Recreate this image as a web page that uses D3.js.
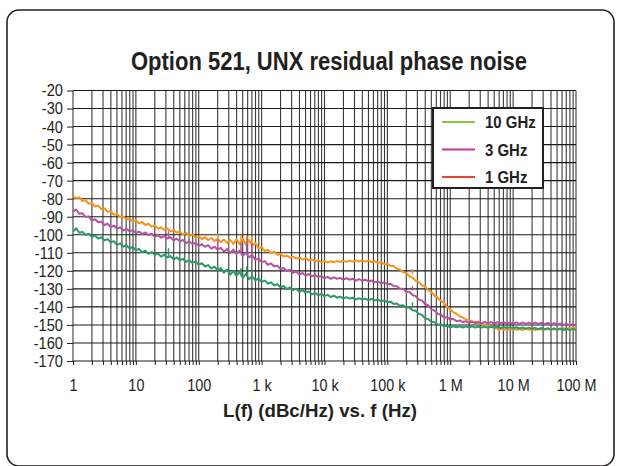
<!DOCTYPE html>
<html><head><meta charset="utf-8">
<script src="https://cdn.jsdelivr.net/npm/d3@7"></script>
<style>
body{margin:0;background:#fff}
svg text{font-family:"Liberation Sans",Arial,sans-serif;fill:#231f20}
</style></head>
<body><svg id="c" width="621" height="466"></svg>
<script>
// ---- data ----
const title = "Option 521, UNX residual phase noise";
const xTitle = "L(f) (dBc/Hz) vs. f (Hz)";
const xTickValues = [1,10,100,1e3,1e4,1e5,1e6,1e7,1e8];
const xTickLabels = ["1","10","100","1 k","10 k","100 k","1 M","10 M","100 M"];
const yTickValues = [-20,-30,-40,-50,-60,-70,-80,-90,-100,-110,-120,-130,-140,-150,-160,-170];
const legendLabels = ["10 GHz","3 GHz","1 GHz"];
const legendColors = ["#8dc63f","#c4379a","#ef4136"];
const seriesColors = ["#f7941d","#b4529f","#2c9a68"];

// log10 of offset frequency (Hz)
const logFreq = [
0,0.05,0.1,0.15,0.2,0.25,0.3,0.35,0.4,0.45,
0.5,0.55,0.6,0.65,0.7,0.75,0.8,0.85,0.9,0.95,
1,1.05,1.1,1.15,1.2,1.25,1.3,1.35,1.4,1.45,
1.5,1.55,1.6,1.65,1.7,1.75,1.8,1.85,1.9,1.95,
2,2.05,2.1,2.15,2.2,2.25,2.3,2.35,2.4,2.45,
2.5,2.55,2.6,2.65,2.7,2.75,2.8,2.85,2.9,2.95,
3,3.05,3.1,3.15,3.2,3.25,3.3,3.35,3.4,3.45,
3.5,3.55,3.6,3.65,3.7,3.75,3.8,3.85,3.9,3.95,
4,4.05,4.1,4.15,4.2,4.25,4.3,4.35,4.4,4.45,
4.5,4.55,4.6,4.65,4.7,4.75,4.8,4.85,4.9,4.95,
5,5.05,5.1,5.15,5.2,5.25,5.3,5.35,5.4,5.45,
5.5,5.55,5.6,5.65,5.7,5.75,5.8,5.85,5.9,5.95,
6,6.05,6.1,6.15,6.2,6.25,6.3,6.35,6.4,6.45,
6.5,6.55,6.6,6.65,6.7,6.75,6.8,6.85,6.9,6.95,
7,7.05,7.1,7.15,7.2,7.25,7.3,7.35,7.4,7.45,
7.5,7.55,7.6,7.65,7.7,7.75,7.8,7.85,7.9,7.95,
8];

const noiseOrange = [
-78.5,-79.8,-79.2,-81.3,-80.9,-82.8,-82.4,-84.3,-83.9,-85.8,
-85.4,-87.3,-86.9,-88.9,-88.4,-90.3,-89.9,-91.6,-90.9,-92.6,
-91.9,-93.6,-92.9,-94.6,-93.9,-95.5,-94.9,-96.6,-95.9,-97.3,
-96.4,-98.1,-97.4,-98.9,-98.2,-99.8,-98.9,-100.6,-99.9,-101.6,
-100.8,-102.4,-101.3,-102.9,-101.8,-103.5,-102.2,-104.1,-102.6,-104.6,
-102.9,-105.1,-102.5,-105.3,-102.2,-105.4,-103.0,-106.2,-104.4,-107.5,
-106.7,-109.1,-108.3,-110.2,-109.4,-111.1,-110.5,-112.0,-111.6,-112.7,
-112.1,-113.2,-112.6,-113.7,-113.1,-114.2,-113.6,-114.7,-114.1,-115.2,
-114.6,-115.3,-114.7,-115.2,-114.6,-115.1,-114.5,-115.0,-114.3,-114.9,
-114.2,-114.8,-114.3,-114.9,-114.4,-115.1,-114.6,-115.6,-115.2,-116.3,
-116.2,-117.3,-117.3,-118.7,-119.3,-120.7,-121.3,-123.0,-123.8,-125.5,
-126.3,-128.0,-128.8,-130.7,-131.8,-133.7,-134.8,-136.7,-137.8,-140.0,
-141.3,-143.0,-143.8,-145.2,-145.8,-147.0,-147.3,-148.2,-148.3,-149.2,
-149.3,-150.2,-150.3,-151.2,-151.3,-152.2,-152.1,-152.7,-152.3,-152.8,
-152.2,-152.7,-152.3,-152.8,-152.2,-152.7,-152.3,-152.8,-152.2,-152.7,
-152.3,-152.6,-152.1,-152.5,-152.0,-152.4,-151.8,-152.2,-151.6,-152.0,
-151.5];

const noisePurple = [
-87.2,-86.0,-88.4,-88.1,-90.1,-89.8,-92.2,-91.4,-93.1,-92.7,
-94.6,-93.9,-95.7,-94.9,-96.6,-95.9,-97.6,-96.7,-98.1,-97.4,
-99.1,-98.2,-99.6,-98.7,-100.1,-99.4,-101.1,-100.2,-101.6,-100.7,
-102.1,-101.4,-103.1,-102.2,-103.6,-102.9,-104.6,-103.7,-105.1,-104.4,
-106.1,-105.2,-106.7,-105.8,-107.7,-106.6,-108.3,-107.2,-109.4,-107.9,
-110.1,-108.2,-110.6,-108.8,-111.6,-109.9,-112.5,-111.3,-113.9,-113.1,
-115.2,-114.6,-116.7,-115.9,-117.6,-117.1,-119.1,-118.4,-120.1,-119.4,
-121.1,-120.4,-122.1,-121.2,-122.6,-121.8,-123.0,-122.3,-123.5,-122.9,
-124.0,-123.4,-124.4,-123.6,-124.4,-123.9,-124.9,-124.1,-124.9,-124.4,
-125.4,-124.6,-125.4,-124.9,-125.9,-125.4,-126.4,-125.9,-126.9,-126.5,
-127.4,-127.2,-128.4,-128.5,-129.9,-130.0,-131.4,-131.7,-133.4,-134.0,
-135.9,-136.5,-138.4,-139.2,-141.4,-142.0,-143.9,-144.2,-145.9,-145.7,
-146.9,-146.7,-147.9,-147.5,-148.4,-148.0,-148.9,-148.2,-149.0,-148.3,
-149.1,-148.4,-149.1,-148.4,-149.2,-148.5,-149.2,-148.5,-149.3,-148.6,
-149.3,-148.6,-149.4,-148.6,-149.4,-148.7,-149.5,-148.7,-149.5,-148.8,
-149.6,-148.9,-149.7,-149.0,-149.8,-149.2,-150.0,-149.4,-150.2,-149.6,
-150.3];

const noiseGreen = [
-98.3,-96.4,-98.9,-98.4,-100.1,-99.4,-101.1,-100.4,-102.1,-101.4,
-103.1,-102.4,-104.1,-103.6,-105.7,-104.8,-106.6,-105.8,-107.6,-106.8,
-108.6,-107.8,-109.6,-108.8,-110.6,-109.6,-111.1,-110.3,-112.1,-111.1,
-112.6,-111.8,-113.6,-112.6,-114.1,-113.3,-115.1,-114.1,-115.6,-114.8,
-116.6,-115.8,-117.6,-116.8,-118.7,-117.7,-119.8,-118.5,-121.0,-119.3,
-122.1,-120.0,-122.8,-120.6,-123.9,-121.7,-124.6,-123.0,-125.3,-124.2,
-126.1,-125.4,-127.1,-126.4,-128.1,-127.4,-129.1,-128.4,-130.1,-129.2,
-130.6,-129.9,-131.6,-130.7,-132.1,-131.4,-133.1,-132.2,-133.6,-132.8,
-134.0,-133.3,-134.5,-133.8,-134.9,-134.3,-135.4,-134.6,-135.4,-134.9,
-135.9,-135.1,-135.9,-135.4,-136.4,-135.6,-136.4,-135.9,-136.9,-136.4,
-137.4,-137.1,-138.4,-138.1,-139.4,-139.1,-140.4,-140.4,-141.9,-142.1,
-143.9,-144.4,-146.4,-146.7,-148.3,-148.5,-149.8,-149.7,-150.8,-150.5,
-151.3,-150.7,-151.3,-150.7,-151.4,-150.8,-151.4,-150.8,-151.5,-150.9,
-151.5,-150.9,-151.6,-151.0,-151.6,-151.0,-151.7,-151.1,-151.8,-151.2,
-151.8,-151.3,-152.0,-151.4,-152.1,-151.5,-152.2,-151.6,-152.4,-151.7,
-152.5,-151.8,-152.6,-151.9,-152.7,-152.0,-152.8,-152.1,-152.9,-152.2,
-152.8];

// discrete spurs: frequency (Hz), and [base, top] per series (null = none)
const spurFreq = [33, 200, 470, 580, 700, 250000];
const spurOrange = [null, [-103,-99.5], [-104,-100], [-104,-100.5], [-104,-101], [-122,-119]];
const spurPurple = [[-101.8,-98], [-107.5,-102.5], [-110,-104.5], [-110.5,-103.5], [-111,-105], [-131,-128.5]];
const spurGreen  = [[-112.5,-107.5], [-119,-117], [-121.5,-118.5], [-122.5,-117.5], [-123,-119.5], [-140,-137.5]];

// ---- drawing ----
const svg = d3.select("#c");
const x = d3.scaleLog().domain([1,1e8]).range([73,576]);
const y = d3.scaleLinear().domain([-170,-20]).range([361,90.5]);

// squeeze a text element horizontally to a fraction of its natural width
function condense(sel, f){
  sel.each(function(){
    const w = this.getComputedTextLength();
    d3.select(this).attr("textLength", w*f).attr("lengthAdjust","spacingAndGlyphs");
  });
}

// frame
svg.append("rect").attr("x",7).attr("y",10).attr("width",607).attr("height",456)
  .attr("rx",12).attr("fill","#fff").attr("stroke","#231f20").attr("stroke-width",1.6);

svg.append("text").attr("x",329).attr("y",70).attr("text-anchor","middle")
  .style("font-size","26px").style("font-weight","bold").text(title)
  .attr("textLength",396).attr("lengthAdjust","spacingAndGlyphs");

// grid
const gridFreqs = [];
for (let k=0;k<8;k++) for (let d=1; d<10; d++) gridFreqs.push(d*Math.pow(10,k));
gridFreqs.push(1e8);
const g = svg.append("g");
g.selectAll("line.v").data(gridFreqs).join("line").attr("class","v")
  .attr("x1",d=>x(d)).attr("x2",d=>x(d)).attr("y1",y(-20)).attr("y2",y(-170))
  .attr("stroke","#3a3a3a").attr("stroke-width",1.1);
g.selectAll("line.h").data(yTickValues).join("line").attr("class","h")
  .attr("x1",x(1)).attr("x2",x(1e8)).attr("y1",d=>y(d)).attr("y2",d=>y(d))
  .attr("stroke","#1a1a1a").attr("stroke-width",1.1);

// axes
const ax = svg.append("g").attr("transform",`translate(0,${y(-170)})`)
  .call(d3.axisBottom(x).tickValues(gridFreqs).tickSize(4).tickFormat(()=>""));
ax.select(".domain").remove();
ax.selectAll("line").attr("stroke","#231f20");
const ax2 = svg.append("g").attr("transform",`translate(0,${y(-170)})`)
  .call(d3.axisBottom(x).tickValues(xTickValues).tickSize(0).tickPadding(19)
    .tickFormat((d,i)=>xTickLabels[i]));
ax2.select(".domain").remove();
ax2.selectAll("text").style("font-size","16px").attr("fill","#231f20").call(condense,0.9);

const ay = svg.append("g").attr("transform",`translate(${x(1)},0)`)
  .call(d3.axisLeft(y).tickValues(yTickValues).tickSize(6).tickPadding(4)
    .tickFormat(d=>String(d)));
ay.select(".domain").remove();
ay.selectAll("line").attr("stroke","#231f20");
ay.selectAll("text").style("font-size","17px").attr("fill","#231f20").call(condense,0.86);

svg.append("text").attr("x",320).attr("y",417).attr("text-anchor","middle")
  .style("font-size","18px").style("font-weight","bold").text(xTitle)
  .attr("textLength",194).attr("lengthAdjust","spacingAndGlyphs");

// series
svg.append("clipPath").attr("id","pc").append("rect")
  .attr("x",x(1)).attr("y",y(-20)).attr("width",x(1e8)-x(1)).attr("height",y(-170)-y(-20));
const line = d3.line().x(d=>x(Math.pow(10,d[0]))).y(d=>y(d[1]));
const series = [noiseOrange, noisePurple, noiseGreen];
const spurs = [spurOrange, spurPurple, spurGreen];
const sg = svg.append("g").attr("clip-path","url(#pc)");
series.forEach((vals,i)=>{
  const pts = logFreq.map((e,j)=>[e, vals[j]]).filter(p=>p[1]!==undefined);
  sg.append("path").attr("d",line(pts)).attr("fill","none")
    .attr("stroke",seriesColors[i]).attr("stroke-width",2).attr("stroke-linejoin","round");
  sg.selectAll(null).data(spurs[i].map((s,j)=>({f:spurFreq[j],s})).filter(d=>d.s))
    .join("line").attr("x1",d=>x(d.f)).attr("x2",d=>x(d.f))
    .attr("y1",d=>y(d.s[0])).attr("y2",d=>y(d.s[1]))
    .attr("stroke",seriesColors[i]).attr("stroke-width",1.5);
});

// legend
const lg = svg.append("g");
lg.append("rect").attr("x",433).attr("y",108).attr("width",110).attr("height",80)
  .attr("fill","#fff").attr("stroke","#231f20").attr("stroke-width",2);
legendLabels.forEach((t,i)=>{
  const cy = 122 + i*27.5;
  lg.append("line").attr("x1",442).attr("x2",475).attr("y1",cy).attr("y2",cy)
    .attr("stroke",legendColors[i]).attr("stroke-width",2.2);
  lg.append("text").attr("x",485).attr("y",cy+6).style("font-size","17px")
    .style("font-weight","bold").text(t).call(condense,0.88);
});
</script></body></html>
